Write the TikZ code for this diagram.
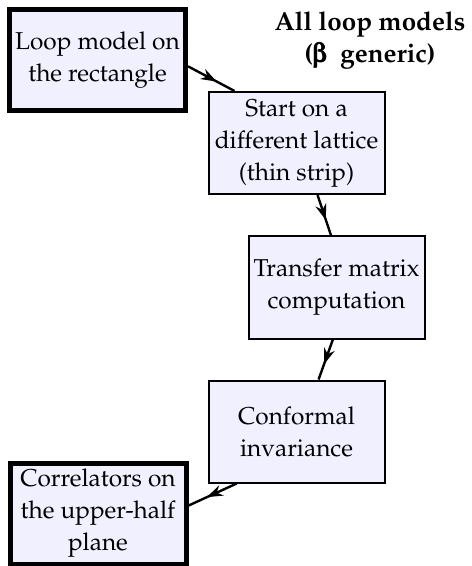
\documentclass[tikz,border=0pt]{standalone}
\usepackage[T1]{fontenc}
\usepackage{mathpazo}
\usepackage[Symbol]{upgreek}
\usepackage{amsmath}
\usetikzlibrary{positioning, arrows.meta, decorations.markings}

\begin{document}
\begin{tikzpicture}[x=0.5pt, y=0.5pt, >=Stealth,
        every node/.style={font=\fontsize{12.2}{16}\selectfont},
        stepbox/.style={draw, line width=1pt, fill=blue!6, align=center,
        minimum width=88pt, minimum height=51pt, inner sep=2pt},
        endbox/.style={stepbox, line width=2.5pt, minimum height=50.5pt},
        midarrow/.style={line width=1.2pt, postaction={decorate,
        decoration={markings, mark=at position 0.62 with
        {\arrow{Stealth[length=8pt, width=5.5pt]}}}}}]
      \useasboundingbox (0,0) rectangle (471,-566);
      \node[endbox] (rect) at (97.5,-60) {Loop model on\\the rectangle};
      \node[stepbox] (strip) at (296.5,-143) {Start on a\\different lattice\\(thin strip)};
      \node[stepbox] (tm) at (336.5,-287.5) {Transfer matrix\\computation};
      \node[stepbox] (conf) at (296.5,-431.5) {Conformal\\invariance};
      \node[endbox] (uhp) at (98,-513.5) {Correlators on\\the upper-half\\plane};
      \node[align=center, font=\fontsize{13}{16}\selectfont\bfseries] (all) at (370,-40)
        {All loop models\\(\pmb{$\upbeta$}~ generic)};
      \draw[midarrow] (rect.-4) -- (strip.140);
      \draw[midarrow] (strip.-68) -- (tm.96);
      \draw[midarrow] (tm.-94) -- (conf.67);
      \draw[midarrow] (conf.-139) -- (uhp.5);
    \end{tikzpicture}
\end{document}
